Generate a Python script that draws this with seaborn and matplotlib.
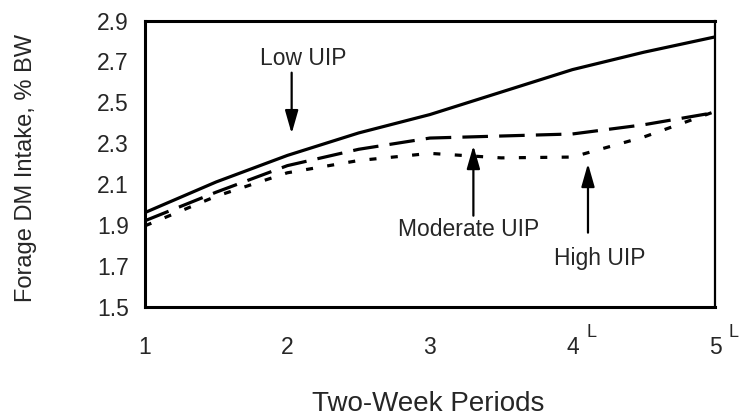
import numpy as np
import pandas as pd
import seaborn as sns
import matplotlib.pyplot as plt

# values, every half period
periods = [1, 1.5, 2, 2.5, 3, 3.5, 4, 4.5, 5]
low_uip = [1.96, 2.11, 2.24, 2.35, 2.44, 2.55, 2.66, 2.745, 2.82]
moderate_uip = [1.92, 2.06, 2.19, 2.27, 2.325, 2.335, 2.345, 2.39, 2.45]
high_uip = [1.895, 2.04, 2.155, 2.215, 2.25, 2.228, 2.232, 2.33, 2.455]
tick_labels = ["1", "2", "3", "4", "5"]

df = pd.DataFrame({
    "period": periods * 3,
    "intake": low_uip + moderate_uip + high_uip,
    "diet": ["Low UIP"] * 9 + ["Moderate UIP"] * 9 + ["High UIP"] * 9,
})

sns.set_style("white")
plt.rcParams["font.family"] = ["Liberation Sans", "DejaVu Sans"]

fig = plt.figure(figsize=(7.39, 4.2), dpi=100)
ax = fig.add_axes([0.196, 0.270, 0.7715, 0.681])

sns.lineplot(data=df, x="period", y="intake", hue="diet", style="diet",
             palette={"Low UIP": "black", "Moderate UIP": "black", "High UIP": "black"},
             dashes={"Low UIP": "", "Moderate UIP": (8, 3.5), "High UIP": (2.2, 4.5)},
             linewidth=2.3, legend=False, ax=ax)

ax.set_xlim(1, 5)
ax.set_ylim(1.5, 2.9)
ax.set_xticks([1, 2, 3, 4, 5])
ax.set_xticklabels(tick_labels)
ax.set_yticks(np.arange(1.5, 2.91, 0.2))
ax.set_yticklabels([f"{v:.1f}" for v in np.arange(1.5, 2.91, 0.2)])
ax.tick_params(direction="inout", length=13, width=2, labelsize=16.5, color="black")
ax.tick_params(axis="x", pad=15)
ax.tick_params(axis="y", pad=5)
for s in ax.spines.values():
    s.set_visible(True)
    s.set_color("black")
    s.set_linewidth(2.2)
ax.spines["right"].set_linewidth(1.6)

ax.set_xlabel("Two-Week Periods", fontsize=20)
ax.set_ylabel("Forage DM Intake, % BW", fontsize=17)
ax.xaxis.set_label_coords(0.4965, -0.295)
ax.yaxis.set_label_coords(-0.19, 0.484)

# superscript L beside the last two period labels
for xp in [4, 5]:
    ax.annotate("L", xy=(xp, 1.5), xytext=(10, -25), textcoords="offset points",
                fontsize=13, ha="left", va="bottom", annotation_clip=False)

arrow = dict(arrowstyle="-|>,head_length=0.7,head_width=0.2", color="black",
             lw=1.6, mutation_scale=20, shrinkA=0, shrinkB=0)
ax.annotate("", xy=(2.03, 2.347), xytext=(2.03, 2.645), arrowprops=arrow)
ax.annotate("", xy=(3.305, 2.288), xytext=(3.305, 1.945), arrowprops=arrow)
ax.annotate("", xy=(4.109, 2.20), xytext=(4.109, 1.862), arrowprops=arrow)

ax.text(2.11, 2.715, "Low UIP", fontsize=16.5, ha="center", va="center")
ax.text(3.274, 1.876, "Moderate UIP", fontsize=16.5, ha="center", va="center")
ax.text(4.193, 1.735, "High UIP", fontsize=16.5, ha="center", va="center")

fig.savefig("out.png", dpi=100)
